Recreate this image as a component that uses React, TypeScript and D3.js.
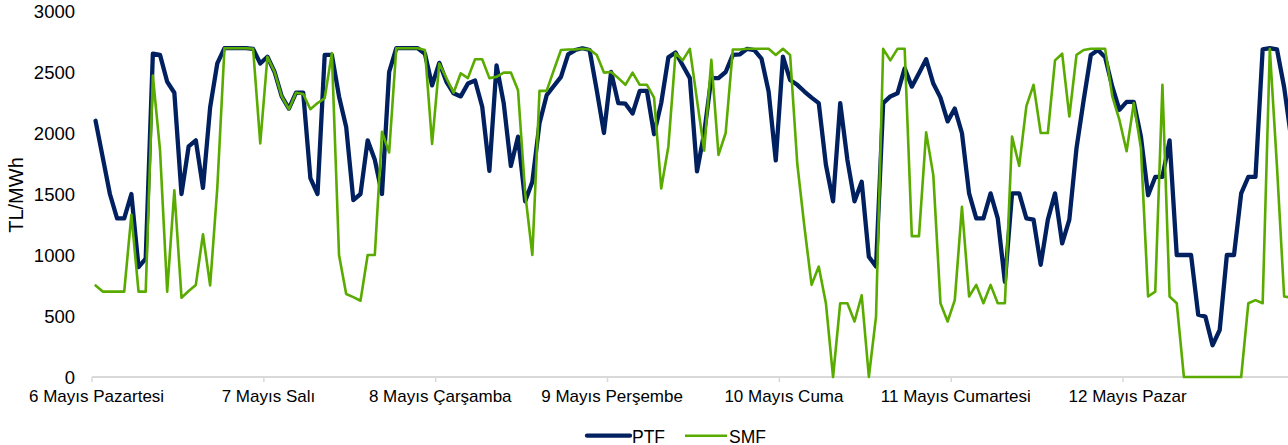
import React from "react";
import * as d3 from "d3";

// Day labels (one per 24 hourly categories)
const dayLabels = [
  "6 Mayıs Pazartesi",
  "7 Mayıs Salı",
  "8 Mayıs Çarşamba",
  "9 Mayıs Perşembe",
  "10 Mayıs Cuma",
  "11 Mayıs Cumartesi",
  "12 Mayıs Pazar",
];

const yTicks = [0, 500, 1000, 1500, 2000, 2500, 3000];

// PTF hourly values (TL/MWh)
const ptf = [
  // 6 Mayıs
  2100, 1800, 1500, 1300, 1300, 1500, 900, 970, 2650, 2640, 2420, 2330, 1500, 1890, 1940, 1550, 2210, 2570, 2695, 2695, 2695, 2695, 2690, 2570,
  // 7 Mayıs
  2625, 2500, 2300, 2200, 2330, 2330, 1630, 1500, 2640, 2640, 2300, 2050, 1450, 1500, 1940, 1780, 1500, 2500, 2695, 2695, 2695, 2695, 2650, 2390,
  // 8 Mayıs
  2575, 2420, 2325, 2300, 2405, 2430, 2215, 1690, 2555, 2245, 1730, 1970, 1440, 1600, 2080, 2310, 2385, 2460, 2645, 2680, 2695, 2680, 2350, 2000,
  // 9 Mayıs
  2500, 2245, 2240, 2160, 2345, 2345, 1990, 2245, 2620, 2660, 2555, 2450, 1685, 2000, 2450, 2450, 2500, 2640, 2645, 2690, 2680, 2610, 2340, 1775,
  // 10 Mayıs
  2625, 2435, 2395, 2340, 2290, 2245, 1740, 1440, 2245, 1780, 1440, 1600, 985, 905, 2245, 2300, 2325, 2530, 2380, 2490, 2605, 2405, 2290, 2095,
  // 11 Mayıs
  2200, 2000, 1505, 1300, 1300, 1505, 1300, 780, 1505, 1505, 1300, 1290, 920, 1290, 1505, 1095, 1290, 1875, 2270, 2640, 2680, 2620, 2380, 2190,
  // 12 Mayıs
  2255, 2255, 1970, 1490, 1640, 1640, 1940, 1000, 1000, 1000, 510, 495, 260, 385, 1000, 1000, 1505, 1640, 1640, 2685, 2695, 2685, 2375, 1950,
];

// SMF hourly values (TL/MWh)
const smf = [
  // 6 Mayıs
  750, 700, 700, 700, 700, 1330, 700, 700, 2470, 1860, 700, 1530, 650, 705, 755, 1170, 750, 1550, 2695, 2695, 2695, 2695, 2690, 1915,
  // 7 Mayıs
  2625, 2500, 2300, 2195, 2330, 2320, 2195, 2245, 2285, 2655, 1000, 680, 655, 625, 1000, 1000, 2010, 1840, 2695, 2695, 2695, 2695, 2680, 1910,
  // 8 Mayıs
  2570, 2450, 2330, 2490, 2450, 2605, 2605, 2450, 2460, 2495, 2495, 2350, 1505, 1000, 2345, 2345, 2515, 2680, 2685, 2685, 2690, 2685, 2640, 2495,
  // 9 Mayıs
  2500, 2450, 2395, 2495, 2395, 2395, 2290, 1545, 1890, 2655, 2595, 2690, 2270, 1855, 2600, 1820, 2000, 2685, 2685, 2690, 2690, 2690, 2690, 2640,
  // 10 Mayıs
  2690, 2640, 1750, 1230, 755, 905, 605, 0, 605, 605, 455, 670, 0, 495, 2690, 2595, 2690, 2690, 1155, 1155, 2005, 1655, 605, 455,
  // 11 Mayıs
  630, 1395, 660, 755, 605, 755, 605, 605, 1970, 1730, 2220, 2395, 2000, 2000, 2595, 2650, 2135, 2640, 2680, 2690, 2690, 2690, 2300, 2105,
  // 12 Mayıs
  1850, 2245, 1875, 660, 700, 2395, 660, 605, 0, 0, 0, 0, 0, 0, 0, 0, 0, 605, 630, 605, 2690, 1725, 660, 650,
];

const W = 1288;
const H = 445;
const FONT = "'Liberation Sans', Arial, Helvetica, sans-serif";
const PTF_COLOR = "#002060";
const SMF_COLOR = "#5aab00";

export default function App() {
  const n = ptf.length;
  const step = 7.16;
  const x = d3.scaleLinear().domain([0, n]).range([92, 92 + n * step]);
  const y = d3.scaleLinear().domain([0, 3000]).range([377, 11]);
  const cx = (i: number) => x(i + 0.5);

  const line = d3
    .line<number>()
    .x((_, i) => cx(i))
    .y((d) => y(d));

  const dayTicks = d3.range(0, n + 1, 24).filter((i) => x(i) <= W);

  return (
    <svg
      width={W}
      height={H}
      style={{ position: "absolute", left: 0, top: 0, display: "block", background: "#fff" }}
      fontFamily={FONT}
    >
      {/* y tick labels */}
      {yTicks.map((t) => (
        <text
          key={t}
          x={75}
          y={y(t)}
          dy="0.36em"
          textAnchor="end"
          fontSize={18.5}
          fill="#000"
        >
          {t}
        </text>
      ))}
      {/* y axis title */}
      <text
        transform={`translate(${23},${195}) rotate(-90)`}
        textAnchor="middle"
        fontSize={20}
        fill="#000"
      >
        TL/MWh
      </text>

      {/* x axis line */}
      <line x1={x(0)} x2={W} y1={y(0)} y2={y(0)} stroke="#d9d9d9" strokeWidth={2} />
      {dayTicks.map((i) => (
        <line key={i} x1={x(i)} x2={x(i)} y1={y(0)} y2={y(0) + 5} stroke="#d9d9d9" strokeWidth={1.5} />
      ))}
      {dayLabels.map((lab, k) => (
        <text key={lab} x={cx(k * 24) + 1} y={402} textAnchor="middle" fontSize={17} fill="#000">
          {lab}
        </text>
      ))}

      {/* series */}
      <path d={line(ptf) || ""} fill="none" stroke={PTF_COLOR} strokeWidth={4.3} strokeLinejoin="round" strokeLinecap="round" />
      <path d={line(smf) || ""} fill="none" stroke={SMF_COLOR} strokeWidth={2.6} strokeLinejoin="round" strokeLinecap="round" />

      {/* legend */}
      <line x1={587} x2={630} y1={435.7} y2={435.7} stroke={PTF_COLOR} strokeWidth={4.3} strokeLinecap="round" />
      <text x={632} y={442.5} fontSize={17.5} fill="#000">PTF</text>
      <line x1={685} x2={727} y1={435.7} y2={435.7} stroke={SMF_COLOR} strokeWidth={2.6} />
      <text x={729} y={442.5} fontSize={17.5} fill="#000">SMF</text>
    </svg>
  );
}
